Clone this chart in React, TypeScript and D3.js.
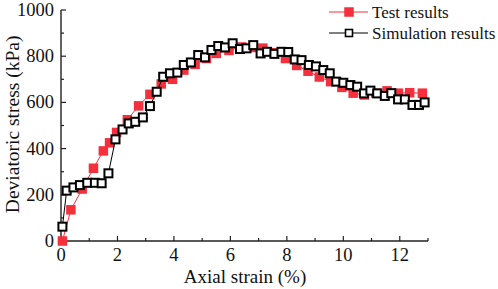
import React from "react";
import * as d3 from "d3";

const testX = [0.05, 0.35, 0.75, 1.15, 1.5, 1.72, 1.97, 2.35, 2.75, 3.15, 3.55, 3.95, 4.35, 4.75, 5.15, 5.5, 5.95, 6.4, 6.8, 7.15, 7.55, 7.95, 8.35, 8.75, 9.15, 9.55, 9.95, 10.35, 10.75, 11.15, 11.55, 11.95, 12.35, 12.8];
const testY = [0, 135, 225, 315, 390, 425, 470, 525, 585, 635, 680, 700, 740, 765, 790, 812, 825, 840, 838, 835, 815, 790, 760, 735, 710, 690, 665, 640, 632, 640, 650, 640, 642, 640];

const simX = [0.05, 0.2, 0.44, 0.67, 0.93, 1.2, 1.44, 1.68, 1.93, 2.18, 2.4, 2.63, 2.9, 3.15, 3.39, 3.62, 3.86, 4.12, 4.35, 4.6, 4.86, 5.1, 5.33, 5.57, 5.81, 6.08, 6.34, 6.57, 6.81, 7.07, 7.3, 7.56, 7.81, 8.05, 8.28, 8.52, 8.78, 9.03, 9.29, 9.52, 9.75, 10.0, 10.25, 10.49, 10.73, 10.96, 11.2, 11.47, 11.7, 11.94, 12.18, 12.45, 12.68, 12.88];
const simY = [62, 218, 232, 242, 252, 252, 250, 293, 440, 483, 509, 516, 535, 584, 646, 711, 726, 729, 762, 773, 805, 795, 827, 844, 838, 856, 831, 834, 848, 812, 819, 810, 819, 818, 786, 783, 762, 756, 740, 726, 690, 685, 675, 668, 639, 651, 639, 628, 640, 613, 613, 589, 589, 600];

const xTicks = [0, 2, 4, 6, 8, 10, 12];
const yTicks = [0, 200, 400, 600, 800, 1000];
const legendLabels = ["Test results", "Simulation results"];

const RED = "#f5303c";
const FONT = "'Liberation Serif', 'Times New Roman', serif";

export default function App() {
  const W = 498, H = 289;
  const x = d3.scaleLinear().domain([0, 13]).range([61, 428]);
  const y = d3.scaleLinear().domain([0, 1000]).range([241, 10]);
  const test = testX.map((v, i) => [v, testY[i]] as [number, number]);
  const sim = simX.map((v, i) => [v, simY[i]] as [number, number]);
  const line = d3.line<[number, number]>().x(d => x(d[0])).y(d => y(d[1]));
  const xMinor = d3.range(1, 14, 2);
  const yMinor = d3.range(100, 1000, 200);
  const rs = 9.5;
  const bs = 8;
  const axisColor = "#222";
  return (
    <svg width={W} height={H} style={{ position: "absolute", left: 0, top: 0, background: "#fff" }} fontFamily={FONT}>
      <rect width={W} height={H} fill="#fff" />
      {/* axes */}
      <line x1={x(0)} x2={x(0)} y1={y(0)} y2={y(1000)} stroke={axisColor} strokeWidth={1.4} />
      <line x1={x(0)} x2={x(13)} y1={y(0)} y2={y(0)} stroke={axisColor} strokeWidth={1.4} />
      {xTicks.map(t => (
        <g key={"xt" + t}>
          <line x1={x(t)} x2={x(t)} y1={y(0)} y2={y(0) - 5} stroke={axisColor} strokeWidth={1.2} />
          <text x={x(t)} y={261} fontSize={18.5} textAnchor="middle" fill="#111">{t}</text>
        </g>
      ))}
      {xMinor.map(t => (
        <line key={"xm" + t} x1={x(t)} x2={x(t)} y1={y(0)} y2={y(0) - 3} stroke={axisColor} strokeWidth={1.2} />
      ))}
      {yTicks.map(t => (
        <g key={"yt" + t}>
          <line x1={x(0)} x2={x(0) + 5} y1={y(t)} y2={y(t)} stroke={axisColor} strokeWidth={1.2} />
          <text x={54} y={y(t) + 6} fontSize={18.5} textAnchor="end" fill="#111">{t}</text>
        </g>
      ))}
      {yMinor.map(t => (
        <line key={"ym" + t} x1={x(0)} x2={x(0) + 3} y1={y(t)} y2={y(t)} stroke={axisColor} strokeWidth={1.2} />
      ))}
      <text x={245} y={283} fontSize={19} textAnchor="middle" fill="#111">Axial strain (%)</text>
      <text transform={`translate(19,${y(505)}) rotate(-90)`} fontSize={19.5} textAnchor="middle" fill="#111">Deviatoric stress (kPa)</text>
      {/* test series */}
      <path d={line(test) || ""} fill="none" stroke={RED} strokeWidth={1} />
      {test.map((d, i) => (
        <rect key={"t" + i} x={x(d[0]) - rs / 2} y={y(d[1]) - rs / 2} width={rs} height={rs} fill={RED} />
      ))}
      {/* simulation series */}
      <path d={line(sim) || ""} fill="none" stroke="#000" strokeWidth={1} />
      {sim.map((d, i) => (
        <rect key={"s" + i} x={x(d[0]) - bs / 2} y={y(d[1]) - bs / 2} width={bs} height={bs} fill="#fff" stroke="#000" strokeWidth={2} />
      ))}
      {/* legend */}
      <g>
        <line x1={329} x2={368} y1={12} y2={12} stroke={RED} strokeWidth={1} />
        <rect x={349 - rs / 2} y={12 - rs / 2} width={rs} height={rs} fill={RED} />
        <text x={372} y={18} fontSize={17} fill="#111">{legendLabels[0]}</text>
        <line x1={329} x2={368} y1={33} y2={33} stroke="#000" strokeWidth={1} />
        <rect x={349 - 3.5} y={33 - 3.5} width={7} height={7} fill="#fff" stroke="#000" strokeWidth={1.6} />
        <text x={372} y={39} fontSize={17} fill="#111">{legendLabels[1]}</text>
      </g>
    </svg>
  );
}
